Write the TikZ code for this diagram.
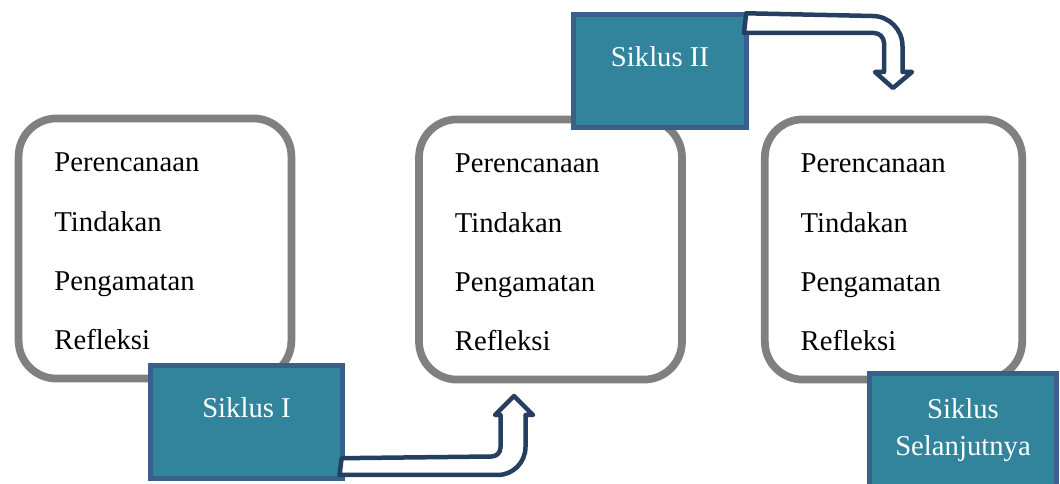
\documentclass[tikz,border=0pt]{standalone}
\usepackage{fontspec}
\setmainfont{Liberation Serif}
\usetikzlibrary{calc, shadows}
\definecolor{boxgray}{HTML}{808080}
\definecolor{sikteal}{HTML}{31849B}
\definecolor{sikedge}{HTML}{3A5F8C}
\definecolor{arrownavy}{HTML}{243F60}
\tikzset{
  cyclebox/.style={draw=boxgray, line width=5.5pt, fill=white, rounded corners=27pt,
    align=left, text width=#1, inner xsep=25.5pt, minimum height=185pt,
    text height=17.7pt, font=\fontsize{20.4}{42.2}\selectfont,
    drop shadow={shadow xshift=1pt, shadow yshift=-1.5pt, opacity=0.25}},
  siklus/.style={draw=sikedge, fill=sikteal, line width=3.5pt, text=white,
    align=center, minimum height=80pt, text depth=20pt,
    font=\fontsize{20.4}{26.2}\selectfont},
  blockarrow/.style={draw=arrownavy, fill=white, line width=3.2pt, line join=round}
}
\begin{document}
\begin{tikzpicture}[x=0.025cm, y=-0.025cm]
\clip (0,0) rectangle (1060,484);
% the three cycles
\node[cyclebox=143pt] (b1) at (155,248.5) {Perencanaan\\Tindakan\\Pengamatan\\Refleksi};
\node[cyclebox=136pt] (b2) at (550.5,249.5) {Perencanaan\\Tindakan\\Pengamatan\\Refleksi};
\node[cyclebox=132pt] (b3) at (893.5,249.5) {Perencanaan\\Tindakan\\Pengamatan\\Refleksi};
% labels
\node[siklus, minimum width=136.8pt] (s1) at (246.5,422) {Siklus I};
\node[siklus, minimum width=123.3pt] (s2) at (660,71) {Siklus II};
\node[siklus, minimum width=133.2pt, minimum height=90pt, text depth=14pt] (s3) at (963,436.5) {Siklus\\Selanjutnya};
% bent arrows
\coordinate (a1) at ($(s1.south east)+(-3.5,-22.5)$);
\draw[blockarrow] (a1) -- (491.5,456.5) .. controls (496.5,456.5) and (500.5,452.5) .. (500.5,447.5)
  -- (500.5,415) -- (495,415) -- (514,396) -- (533,415) -- (525.5,415) -- (525.5,447)
  .. controls (525.5,462.5) and (513,475) .. (497.5,475) -- (339.5,475) -- cycle;
\coordinate (a2) at ($(s2.north east)+(-3,1)$);
\draw[blockarrow] (a2) -- (872.5,16) .. controls (889,16) and (902.5,29.5) .. (902.5,46)
  -- (902.5,72) -- (912,72) -- (893,88) -- (875,72) -- (884,72) -- (884,43)
  .. controls (884,37.5) and (879.5,33) .. (874,33) -- (744,33) -- cycle;
\end{tikzpicture}
\end{document}
